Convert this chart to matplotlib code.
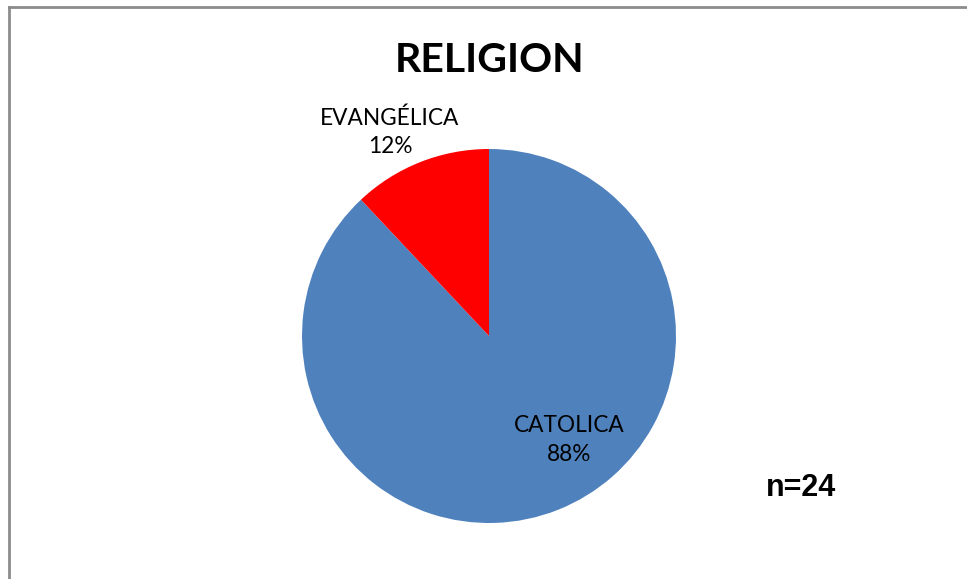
import matplotlib
matplotlib.use('Agg')
import matplotlib.pyplot as plt
from matplotlib.lines import Line2D

W, H = 967, 579

categories = ['CATOLICA', 'EVANGÉLICA']
shares = [88, 12]
colors = ['#4F81BD', '#FF0000']
title = 'RELIGION'
note = 'n=24'

fig = plt.figure(figsize=(W / 100, H / 100), dpi=100)
fig.patch.set_facecolor('white')

# chart frame (top and left edges visible, rest runs off the image)
frame_kw = dict(color='#8c8c8c', linewidth=2.0, transform=fig.transFigure)
fig.add_artist(Line2D([8.5 / W, 1.0], [1 - 7 / H, 1 - 7 / H], **frame_kw))
fig.add_artist(Line2D([8.5 / W, 8.5 / W], [0.0, 1 - 7 / H], **frame_kw))

# pie axes: centre (489, 336) px, radius 187 px
cx, cy, r = 489, 336, 187
ax = fig.add_axes([(cx - r) / W, (H - cy - r) / H, 2 * r / W, 2 * r / H])
wedges, _ = ax.pie(shares, colors=colors, startangle=90, counterclock=False,
                   wedgeprops=dict(linewidth=0))
ax.set_xlim(-1, 1)
ax.set_ylim(-1, 1)
ax.set_aspect('equal')
ax.axis('off')

lbl_pos = {'CATOLICA': (0.43, -0.556), 'EVANGÉLICA': (-0.53, 1.09)}
for cat, val in zip(categories, shares):
    x, y = lbl_pos[cat]
    ax.text(x, y, f'{cat}\n{val}%', ha='center', va='center', fontsize=16.3,
            family='Lato', linespacing=1.45, clip_on=False)

fig.text(490 / W, 1 - 60 / H, title, ha='center', va='center',
         fontsize=29.5, fontweight='bold', family='Lato')
fig.text(801 / W, 1 - 488 / H, note, ha='center', va='center',
         fontsize=22, fontweight='bold', family='Liberation Sans')

fig.savefig('out.png', dpi=100)
